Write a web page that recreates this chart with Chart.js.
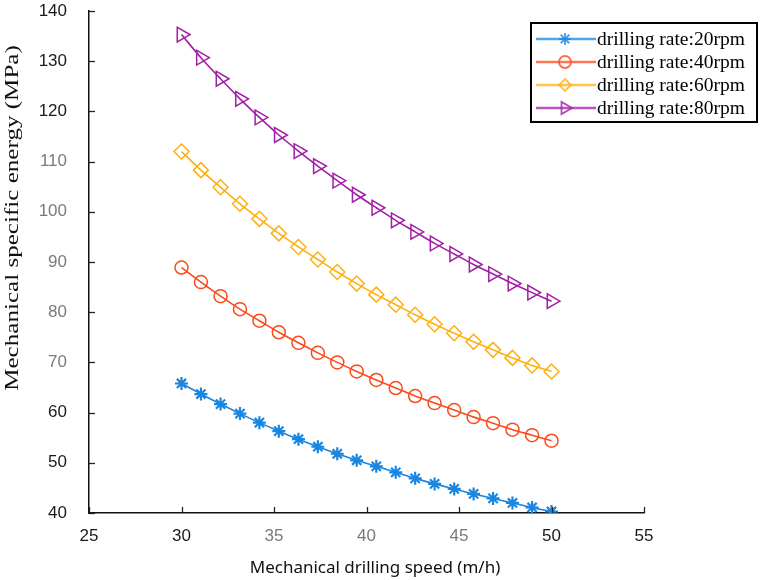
<!DOCTYPE html>
<html>
<head>
<meta charset="utf-8">
<script src="https://cdn.jsdelivr.net/npm/chart.js@4/dist/chart.umd.min.js"></script>
<style>
  html, body { margin: 0; padding: 0; background: #fff; }
  #wrap { width: 762px; height: 580px; position: relative; }
</style>
</head>
<body>
<div id="wrap"><canvas id="c" width="762" height="580"></canvas></div>
<script>
// drilling speed (m/h), 20 points from 30 to 50
const speeds = [30, 31.05, 32.11, 33.16, 34.21, 35.26, 36.32, 37.37, 38.42, 39.47,
                40.53, 41.58, 42.63, 43.68, 44.74, 45.79, 46.84, 47.89, 48.95, 50];

// mechanical specific energy (MPa)
const mse20 = [65.8, 63.7, 61.7, 59.8, 58.0, 56.3, 54.7, 53.2, 51.8, 50.5,
               49.3, 48.1, 46.9, 45.8, 44.8, 43.8, 42.9, 42.0, 41.1, 40.3];
const mse40 = [88.9, 86.0, 83.2, 80.6, 78.3, 76.0, 73.9, 71.9, 70.0, 68.2,
               66.5, 64.9, 63.3, 61.9, 60.5, 59.1, 57.9, 56.6, 55.5, 54.4];
const mse60 = [112.0, 108.3, 104.9, 101.6, 98.6, 95.7, 93.0, 90.5, 88.0, 85.7,
               83.5, 81.5, 79.5, 77.6, 75.8, 74.1, 72.5, 70.9, 69.4, 68.2];
const mse80 = [135.3, 130.7, 126.5, 122.5, 118.8, 115.3, 112.1, 109.1, 106.2, 103.4,
               100.8, 98.3, 96.0, 93.7, 91.6, 89.5, 87.6, 85.7, 83.9, 82.2];

const seriesLabels = ['drilling rate:20rpm', 'drilling rate:40rpm', 'drilling rate:60rpm', 'drilling rate:80rpm'];
const seriesColors = ['#1b86e0', '#fb4a1c', '#fdb010', '#a11fa6'];
const seriesMarkers = ['star', 'circle', 'rectRot', 'triangle'];

const xTicks = [25, 30, 35, 40, 45, 50, 55];
const yTicks = [40, 50, 60, 70, 80, 90, 100, 110, 120, 130, 140];

const xTitle = 'Mechanical drilling speed (m/h)';
const yTitle = 'Mechanical specific energy (MPa)';

const toPoints = ys => ys.map((y, i) => ({ x: speeds[i], y: y }));

function makeSet(idx, ys) {
  const marker = seriesMarkers[idx];
  return {
    label: seriesLabels[idx],
    data: toPoints(ys),
    borderColor: seriesColors[idx],
    backgroundColor: 'rgba(0,0,0,0)',
    borderWidth: 1.6,
    pointStyle: marker,
    pointRotation: marker === 'triangle' ? 90 : 0,
    pointRadius: marker === 'triangle' ? 8.5 : (marker === 'rectRot' ? 7.5 : 6.5),
    pointBorderWidth: marker === 'star' ? 2.2 : 1.5,
    pointBorderColor: seriesColors[idx],
    pointBackgroundColor: 'rgba(0,0,0,0)',
    tension: 0.3
  };
}

// a few tick labels in the picture are printed in grey
const greyTicks = { x: [35, 40, 45], y: [70, 80, 90, 100, 110] };

// inward ticks, MATLAB style
const innerTicks = {
  id: 'innerTicks',
  afterDatasetsDraw(chart) {
    const { ctx, scales: { x, y } } = chart;
    ctx.save();
    ctx.strokeStyle = '#222';
    ctx.lineWidth = 1.3;
    xTicks.forEach(v => {
      const px = Math.round(x.getPixelForValue(v)) + 0.5;
      ctx.beginPath();
      ctx.moveTo(px, y.bottom);
      ctx.lineTo(px, y.bottom - 6);
      ctx.stroke();
    });
    yTicks.forEach(v => {
      const py = Math.round(y.getPixelForValue(v)) + 0.5;
      ctx.beginPath();
      ctx.moveTo(x.left, py);
      ctx.lineTo(x.left + 6, py);
      ctx.stroke();
    });
    ctx.restore();
  }
};

// axis titles: the y title in the picture is stretched along its length
const axisTitles = {
  id: 'axisTitles',
  afterDraw(chart) {
    const ctx = chart.ctx;
    ctx.save();
    ctx.fillStyle = '#111';
    ctx.textAlign = 'center';
    ctx.textBaseline = 'middle';
    ctx.font = '17px "Noto Sans", "Liberation Sans", sans-serif';
    ctx.fillText(xTitle, 375, 568);
    ctx.translate(13, 218);
    ctx.rotate(-Math.PI / 2);
    ctx.scale(1.32, 1);
    ctx.font = '19px "Liberation Serif", "Times New Roman", serif';
    ctx.fillText(yTitle, 0, 0);
    ctx.restore();
  }
};

function drawMarker(ctx, style, cx, cy, r) {
  ctx.beginPath();
  if (style === 'star') {
    for (let k = 0; k < 4; k++) {
      const a = k * Math.PI / 4;
      ctx.moveTo(cx - r * Math.cos(a), cy - r * Math.sin(a));
      ctx.lineTo(cx + r * Math.cos(a), cy + r * Math.sin(a));
    }
  } else if (style === 'circle') {
    ctx.arc(cx, cy, r, 0, Math.PI * 2);
  } else if (style === 'rectRot') {
    ctx.moveTo(cx, cy - r); ctx.lineTo(cx + r, cy); ctx.lineTo(cx, cy + r); ctx.lineTo(cx - r, cy); ctx.closePath();
  } else {
    ctx.moveTo(cx + r, cy); ctx.lineTo(cx - r * 0.5, cy - r * 0.87); ctx.lineTo(cx - r * 0.5, cy + r * 0.87); ctx.closePath();
  }
  ctx.stroke();
}

// boxed legend drawn over the top-right corner
const boxLegend = {
  id: 'boxLegend',
  afterDraw(chart) {
    const ctx = chart.ctx;
    const bx = 531, by = 23, bw = 226, bh = 99;
    ctx.save();
    ctx.fillStyle = '#fff';
    ctx.fillRect(bx, by, bw, bh);
    ctx.strokeStyle = '#000';
    ctx.lineWidth = 2;
    ctx.strokeRect(bx, by, bw, bh);
    ctx.font = '19.5px "Liberation Serif", "Times New Roman", serif';
    ctx.textBaseline = 'middle';
    seriesLabels.forEach((lab, i) => {
      const ly = 39 + i * 23;
      const col = seriesColors[i];
      ctx.globalAlpha = 0.75;
      ctx.strokeStyle = col;
      ctx.lineWidth = 2.5;
      ctx.beginPath();
      ctx.moveTo(536, ly);
      ctx.lineTo(596, ly);
      ctx.stroke();
      ctx.globalAlpha = 0.8;
      ctx.lineWidth = 1.8;
      const r = seriesMarkers[i] === 'triangle' ? 7 : 6;
      drawMarker(ctx, seriesMarkers[i], 565, ly, r);
      ctx.globalAlpha = 1;
      ctx.fillStyle = '#000';
      ctx.fillText(lab, 597, ly + 1);
    });
    ctx.restore();
  }
};

new Chart(document.getElementById('c'), {
  type: 'line',
  data: {
    datasets: [makeSet(0, mse20), makeSet(1, mse40), makeSet(2, mse60), makeSet(3, mse80)]
  },
  options: {
    responsive: false,
    animation: false,
    layout: { padding: { top: 11, right: 118, left: 0, bottom: 0 } },
    plugins: { legend: { display: false }, tooltip: { enabled: false } },
    scales: {
      x: {
        type: 'linear',
        min: 25, max: 55,
        afterBuildTicks: s => { s.ticks = xTicks.map(v => ({ value: v })); },
        afterFit: s => { s.height = 67; s.paddingLeft = 0; s.paddingRight = 0; },
        grid: { drawOnChartArea: false, drawTicks: false },
        border: { color: '#111', width: 1.5 },
        ticks: {
          padding: 13,
          font: { family: '"Liberation Sans", Arial, sans-serif', size: 17 },
          color: c => greyTicks.x.includes(c.tick.value) ? '#7a7a7a' : '#1a1a1a'
        }
      },
      y: {
        min: 40, max: 140,
        afterBuildTicks: s => { s.ticks = yTicks.map(v => ({ value: v })); },
        afterFit: s => { s.width = 89; s.paddingTop = 0; s.paddingBottom = 0; },
        grid: { drawOnChartArea: false, drawTicks: false },
        border: { color: '#111', width: 1.5 },
        ticks: {
          padding: 22,
          font: { family: '"Liberation Sans", Arial, sans-serif', size: 17 },
          color: c => greyTicks.y.includes(c.tick.value) ? '#7a7a7a' : '#1a1a1a'
        }
      }
    }
  },
  plugins: [innerTicks, axisTitles, boxLegend]
});
</script>
</body>
</html>
